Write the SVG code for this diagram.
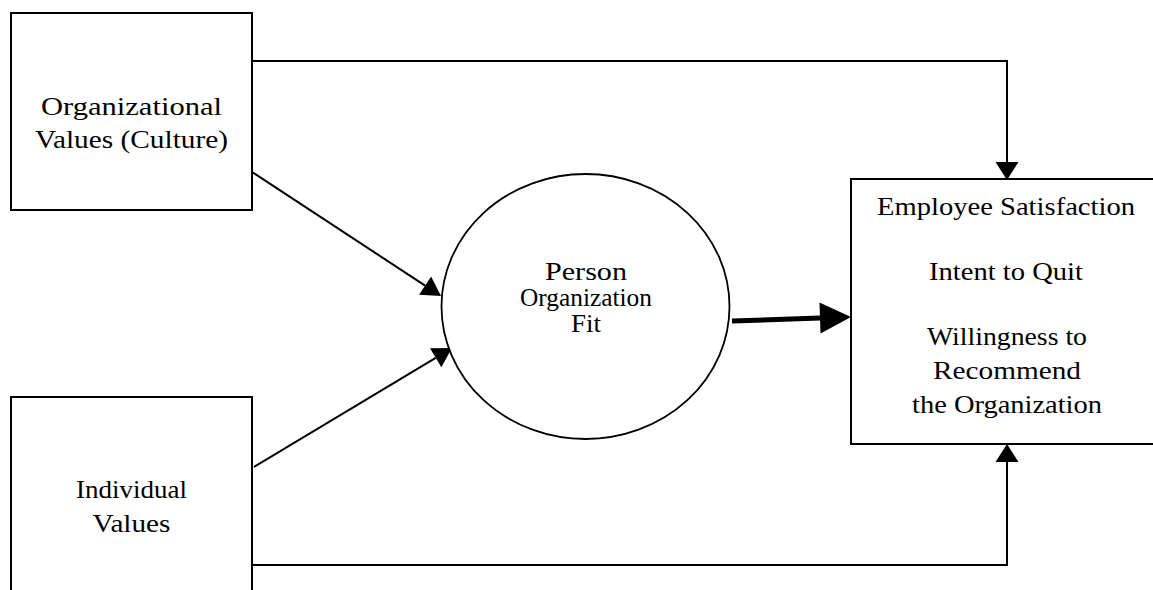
<svg xmlns="http://www.w3.org/2000/svg" width="1153" height="590" viewBox="0 0 1153 590">
<style>
.box{fill:#fff;stroke:#000;stroke-width:2}
.ell{fill:#fff;stroke:#000;stroke-width:1.8}
.ln{fill:none;stroke:#000;stroke-width:2}
.thick{fill:none;stroke:#000;stroke-width:5}
text{font-family:"Liberation Serif","Times New Roman",serif;font-size:26px;fill:#000;text-anchor:middle}
.sm{font-size:25px}
</style>
<defs>
<marker id="ah" markerUnits="userSpaceOnUse" markerWidth="20" markerHeight="24" refX="0" refY="11.5" orient="auto" overflow="visible">
<path d="M0,0 L18,11.5 L0,23 Z" fill="#000"/>
</marker>
<marker id="ahd" markerUnits="userSpaceOnUse" markerWidth="20" markerHeight="24" refX="0" refY="11" orient="auto" overflow="visible">
<path d="M0,0 L19,11 L0,22 Z" fill="#000"/>
</marker>
<marker id="ahb" markerUnits="userSpaceOnUse" markerWidth="32" markerHeight="32" refX="0" refY="15.5" orient="auto" overflow="visible">
<path d="M0,0 L31,15.5 L0,31 Z" fill="#000"/>
</marker>
</defs>
<rect width="1153" height="590" fill="#fff"/>
<g id="connectors">
<polyline class="ln" points="252,61 1007,61 1007,162" marker-end="url(#ah)"/>
<polyline class="ln" points="252,565 1007,565 1007,462" marker-end="url(#ah)"/>
<line class="ln" x1="252" y1="172" x2="425.1" y2="285.6" marker-end="url(#ahd)"/>
<line class="ln" x1="254" y1="467" x2="435.7" y2="357.8" marker-end="url(#ahd)"/>
<line class="thick" x1="732" y1="321" x2="820" y2="318" marker-end="url(#ahb)"/>
</g>
<g id="org-values">
<rect class="box" x="11" y="13" width="241" height="197"/>
<text x="131.5" y="115" textLength="181" lengthAdjust="spacingAndGlyphs">Organizational</text>
<text x="131.5" y="148" textLength="193" lengthAdjust="spacingAndGlyphs">Values (Culture)</text>
</g>
<g id="individual-values">
<rect class="box" x="11" y="397" width="241" height="210"/>
<text x="131.5" y="498" textLength="111" lengthAdjust="spacingAndGlyphs">Individual</text>
<text x="131.5" y="532" textLength="78" lengthAdjust="spacingAndGlyphs">Values</text>
</g>
<g id="po-fit">
<ellipse class="ell" cx="585.5" cy="306.5" rx="144" ry="132.5"/>
<text class="sm" x="586" y="280" textLength="82" lengthAdjust="spacingAndGlyphs">Person</text>
<text class="sm" x="586" y="306" textLength="132" lengthAdjust="spacingAndGlyphs">Organization</text>
<text class="sm" x="586" y="332" textLength="30" lengthAdjust="spacingAndGlyphs">Fit</text>
</g>
<g id="outcomes">
<rect class="box" x="851" y="179" width="320" height="265"/>
<text x="1006" y="215" textLength="258" lengthAdjust="spacingAndGlyphs">Employee Satisfaction</text>
<text x="1006" y="280" textLength="154" lengthAdjust="spacingAndGlyphs">Intent to Quit</text>
<text x="1007" y="345" textLength="160" lengthAdjust="spacingAndGlyphs">Willingness to</text>
<text x="1007" y="379" textLength="148" lengthAdjust="spacingAndGlyphs">Recommend</text>
<text x="1007" y="413" textLength="190" lengthAdjust="spacingAndGlyphs">the Organization</text>
</g>
</svg>
